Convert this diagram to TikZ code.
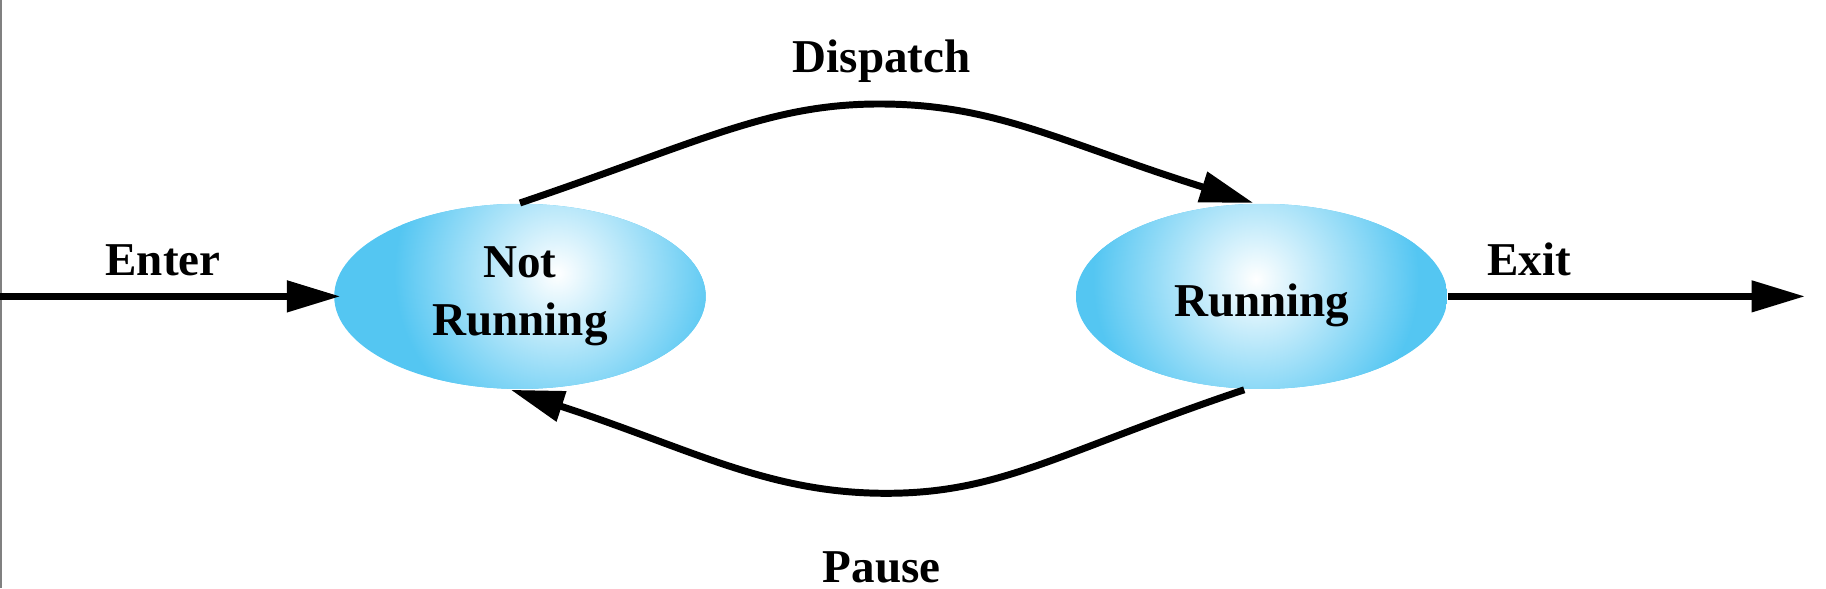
\documentclass[tikz,border=0pt]{standalone}
\usepackage{fontspec}
\setmainfont{Liberation Serif}
\usepackage{tikz}
\usetikzlibrary{positioning,arrows.meta,shapes.geometric}
\definecolor{skyblue}{RGB}{84,198,242}

\begin{document}
\begin{tikzpicture}[
    font=\fontsize{11.5}{14.2}\selectfont\bfseries,
    state/.style={ellipse, minimum width=3.19cm, minimum height=1.59cm, inner sep=0pt, text centered, align=center},
    glow/.style={path picture={
        \fill[skyblue] (path picture bounding box.south west) rectangle (path picture bounding box.north east);
        \shade[inner color=white, outer color=skyblue] ([shift={#1}]path picture bounding box.center) circle (1.4cm);}},
    tag/.style={anchor=base},
    arrow/.style={-{Triangle[length=4.6mm,width=2.6mm]}, line width=1.7pt}
]

\useasboundingbox (0,0) rectangle (15.68,5.05);
\draw[gray, line width=0.5pt] (0.01,0) -- (0.01,5.05);

% States
\node (notrun) [state, glow={(0.32,0.2)}] at (4.465,2.505) {Not\\Running};
\node (run) [state, glow={(-0.05,0.15)}, text height=10pt, text depth=0pt, right=3.165cm of notrun] {Running};

% Entry and exit points
\coordinate (enterpt) at (0,2.505);
\coordinate (exitpt) at (15.5,2.505);

% Transitions
\draw[arrow] (enterpt) -- ([xshift=0.06cm]notrun.west);
\draw[arrow] (run.east) -- (exitpt);
\draw[arrow] (notrun.north) .. controls (6.0,3.825) and (6.6,4.157) .. (7.55,4.157)
    .. controls (8.55,4.157) and (9.1,3.83) .. ([xshift=-0.07cm]run.north);
\draw[arrow] ([xshift=-0.15cm]run.south) .. controls (9.1,1.17) and (8.6,0.814) .. (7.61,0.814)
    .. controls (6.6,0.814) and (5.95,1.19) .. ([xshift=-0.08cm]notrun.south);

% Labels
\node (enter) [tag] at (1.40,2.68) {Enter};
\node (exit) [tag] at (13.13,2.68) {Exit};
\node (dispatch) [tag] at (7.57,4.43) {Dispatch};
\node (pause) [tag] at (7.57,0.05) {Pause};

\end{tikzpicture}
\end{document}
